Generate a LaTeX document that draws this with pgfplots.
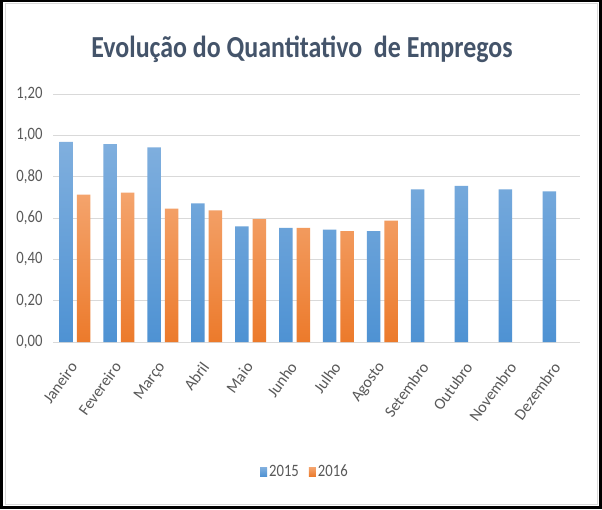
\documentclass[border=0pt]{standalone}
\usepackage{pgfplots}
\pgfplotsset{compat=1.18}
\usepackage{fontspec}
\setmainfont{Carlito}
\definecolor{blueT}{HTML}{80AFDE}
\definecolor{blueB}{HTML}{4E92D3}
\definecolor{orT}{HTML}{F4A46D}
\definecolor{orB}{HTML}{EC7A2B}
\definecolor{gridc}{HTML}{D9D9D9}
\definecolor{tickc}{HTML}{595959}
\definecolor{titlec}{HTML}{44546A}
\begin{document}
\begin{tikzpicture}[x=1pt,y=1pt]
\fill[black] (0,0) rectangle (602,509);
\fill[white] (3,3) rectangle (599,507);
\draw[gridc, line width=1pt] (5,5) rectangle (597,505);
\node[text=titlec, font=\bfseries\fontsize{25.9}{30}\selectfont, yscale=1.18] at (302,460) {Evolução do Quantitativo\ \ de Empregos};
\begin{axis}[
  at={(53pt,167pt)}, anchor=south west,
  width=527pt, height=248pt, scale only axis,
  ybar=4pt, bar width=13.5pt,
  ymin=0, ymax=1.2,
  ytick={0,0.2,0.4,0.6,0.8,1.0,1.2},
  yticklabels={{0,00},{0,20},{0,40},{0,60},{0,80},{1,00},{1,20}},
  xmin=-0.5, xmax=11.5,
  xtick={0,1,2,3,4,5,6,7,8,9,10,11},
  xticklabels={Janeiro,Fevereiro,Março,Abril,Maio,Junho,Julho,Agosto,Setembro,Outubro,Novembro,Dezembro},
  axis lines=left, axis line style={-},
  y axis line style={draw=none},
  x axis line style={draw=gridc, line width=0.8pt},
  major tick length=0pt,
  ymajorgrids, grid style={gridc, line width=0.8pt},
  yticklabel style={text=tickc, font=\fontsize{14.7}{16}\selectfont, yscale=1.18, xshift=-7pt},
  xticklabel style={text=tickc, font=\fontsize{16}{17}\selectfont, xshift=-6pt, yshift=-17pt, rotate=54, anchor=north east, inner sep=1pt},
  legend style={at={(0.478,-0.524)}, anchor=center, draw=none, fill=none,
    legend columns=2, font=\fontsize{14.7}{16}\selectfont, text=tickc,
    nodes={yscale=1.18},
    /tikz/every even column/.append style={column sep=8pt}},
  legend image code/.code={\path[#1, draw=none] (0pt,-4.5pt) rectangle (7pt,4.5pt);},
]
\addplot[draw=none, top color=blueT, bottom color=blueB] coordinates {
(0,0.968) (1,0.958) (2,0.942) (3,0.671) (4,0.560) (5,0.552)
(6,0.544) (7,0.536) (8,0.739) (9,0.755) (10,0.739) (11,0.729)};
\addlegendentry{2015}
\addplot[draw=none, top color=orT, bottom color=orB] coordinates {
(0,0.713) (1,0.723) (2,0.645) (3,0.637) (4,0.594) (5,0.552)
(6,0.536) (7,0.587)};
\addlegendentry{2016}
\end{axis}
\pgfresetboundingbox
\useasboundingbox (0,0) rectangle (602,509);
\end{tikzpicture}
\end{document}
